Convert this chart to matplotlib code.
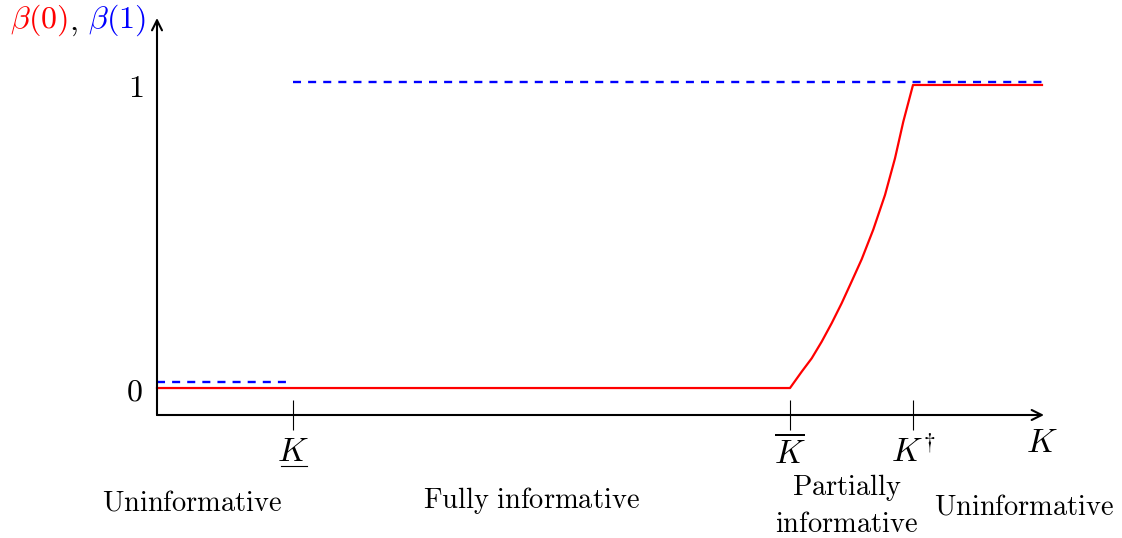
import matplotlib
matplotlib.use("Agg")
import matplotlib.pyplot as plt
from matplotlib.transforms import offset_copy

plt.rcParams["mathtext.fontset"] = "cm"
plt.rcParams["font.family"] = "serif"
plt.rcParams["font.serif"] = ["DejaVu Serif"]

# threshold positions on the K axis
K_low = 1.36
K_bar = 6.33
K_dag = 7.56
K_end = 8.85

# beta(0): flat at 0, rises between K_bar and K_dag, then flat at 1
red_x = [0.0, K_bar, 6.447, 6.547, 6.647, 6.747, 6.847, 6.947, 7.047, 7.163,
         7.28, 7.38, 7.463, K_dag, K_end]
red_y = [0.0, 0.0, 0.054, 0.098, 0.153, 0.214, 0.280, 0.352, 0.425, 0.523,
         0.637, 0.758, 0.879, 1.0, 1.0]

# beta(1): two dashed segments
blue_low_x = [0.0, K_low]
blue_low_y = [0.02, 0.02]
blue_high_x = [K_low, K_end]
blue_high_y = [1.01, 1.01]

tick_pos = [K_low, K_bar, K_dag]
tick_labels = [r"$K$", r"$\overline{K}$", r"$K^{\dagger}$"]

regions = [r"$\mathrm{Uninformative}$", r"$\mathrm{Fully\ informative}$",
           r"$\mathrm{Partially}$" + "\n" + r"$\mathrm{informative}$", r"$\mathrm{Uninformative}$"]
region_x = [0.35, 3.74, 6.90, 8.67]
region_y = [-0.38, -0.372, -0.386, -0.392]

y0 = -0.089
y1 = 1.221

fig = plt.figure(figsize=(11.22, 5.38), dpi=100)
ax = fig.add_axes([157 / 1122, (538 - 415) / 538, 888 / 1122, 397 / 538])
ax.set_xlim(0, 8.88)
ax.set_ylim(y0, y1)

ax.plot(blue_low_x, blue_low_y, color="blue", lw=1.7, dashes=(3.4, 3.0), clip_on=False)
ax.plot(blue_high_x, blue_high_y, color="blue", lw=1.7, dashes=(3.4, 3.0), clip_on=False)
ax.plot(red_x, red_y, color="red", lw=1.6, clip_on=False)

for s in ["top", "right", "left", "bottom"]:
    ax.spines[s].set_visible(False)

# axes with arrow heads
arrow = dict(arrowstyle="->", lw=1.5, color="black", shrinkA=0, shrinkB=0, mutation_scale=18)
ax.annotate("", xy=(K_end + 0.02, y0), xytext=(0, y0), arrowprops=arrow)
ax.annotate("", xy=(0, y1), xytext=(0, y0), arrowprops=arrow)

ax.set_xticks(tick_pos)
ax.set_xticklabels(tick_labels, fontsize=24)
ax.tick_params(axis="x", direction="inout", length=21.6, width=0.8, pad=4)
ax.set_yticks([0, 1])
ax.set_yticklabels([r"$0$", r"$1$"], fontsize=23, va="center_baseline")
ax.tick_params(axis="y", length=0, pad=10)

# underline for the lower threshold label
under = offset_copy(ax.transData, fig=fig, y=-36.5, units="points")
ax.plot([K_low - 0.12, K_low + 0.14], [y0, y0], color="black", lw=0.8,
        transform=under, clip_on=False)

ax.text(K_end, -0.13, r"$K$", fontsize=24, ha="center", va="top")

# y label in two colours
t1 = ax.text(-1.47, 1.215, r"$\beta(0)$", color="red", fontsize=23, ha="left", va="center")
t2 = ax.annotate(r"$,$", xy=(1, 0), xycoords=t1, xytext=(1, 0), textcoords="offset points",
                 fontsize=23, va="bottom", ha="left")
t3 = ax.annotate(r"$\beta(1)$", xy=(1, 0), xycoords=t2, xytext=(7, 0), textcoords="offset points",
                 fontsize=23, color="blue", va="bottom", ha="left")

for lab, x, y in zip(regions, region_x, region_y):
    ax.text(x, y, lab, fontsize=20.5, ha="center", va="center", linespacing=1.35)

fig.savefig("out.png", dpi=100)
